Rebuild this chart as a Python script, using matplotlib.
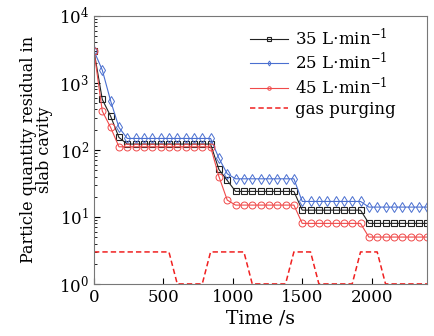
import matplotlib
matplotlib.use('Agg')
import matplotlib.pyplot as plt
from matplotlib import rcParams

rcParams['font.family'] = 'DejaVu Serif'
rcParams['mathtext.fontset'] = 'dejavuserif'

# time axis of sampled points (s)
t = [0, 60, 120, 180, 240, 300, 360, 420, 480, 540, 600, 660, 720, 780, 840,
     900, 960, 1020, 1080, 1140, 1200, 1260, 1320, 1380, 1440,
     1500, 1560, 1620, 1680, 1740, 1800, 1860, 1920,
     1980, 2040, 2100, 2160, 2220, 2280, 2340, 2400]

flow_35 = [3000, 565, 318, 153, 122, 122, 122, 122, 122, 122, 122, 122, 122, 122, 122,
           51, 35, 24, 24, 24, 24, 24, 24, 24, 24,
           12.6, 12.6, 12.6, 12.6, 12.6, 12.6, 12.6, 12.6,
           8, 8, 8, 8, 8, 8, 8, 8]
flow_25 = [3000, 1550, 538, 216, 148, 148, 148, 148, 148, 148, 148, 148, 148, 148, 148,
           75, 44, 37, 37, 37, 37, 37, 37, 37, 37,
           17, 17, 17, 17, 17, 17, 17, 17,
           14, 14, 14, 14, 14, 14, 14, 14]
flow_45 = [3000, 378, 216, 111, 111, 111, 111, 111, 111, 111, 111, 111, 111, 111, 111,
           40, 17.8, 15, 15, 15, 15, 15, 15, 15, 15,
           8, 8, 8, 8, 8, 8, 8, 8,
           5, 5, 5, 5, 5, 5, 5, 5]

purge_t = [0, 540, 600, 780, 840, 1080, 1140, 1380, 1440, 1560, 1620, 1860, 1920, 2040, 2100, 2400]
purge_y = [3, 3, 1, 1, 3, 3, 1, 1, 3, 3, 1, 1, 3, 3, 1, 1]

fig = plt.figure(figsize=(4.35, 3.36), dpi=100)
ax = fig.add_axes([0.216, 0.155, 0.766, 0.798])

ax.plot(t, flow_35, color='#222222', lw=0.8, marker='s', ms=5, mfc='none',
        mew=0.8, label=r'35 L$\cdot$min$^{-1}$')
ax.plot(t, flow_25, color='#4a6fd0', lw=0.8, marker='d', ms=5, mfc='none',
        mew=0.7, label=r'25 L$\cdot$min$^{-1}$')
ax.plot(t, flow_45, color='#f04a4a', lw=0.8, marker='o', ms=5, mfc='none',
        mew=0.7, label=r'45 L$\cdot$min$^{-1}$')
ax.plot(purge_t, purge_y, color='#f02020', lw=1.1, ls=(0, (3.5, 2)), label='gas purging')

ax.set_yscale('log')
ax.set_xlim(0, 2400)
ax.set_ylim(1, 1e4)
ax.set_xticks([0, 500, 1000, 1500, 2000])
ax.tick_params(direction='in', labelsize=12, which='both', top=False, right=False)
ax.tick_params(which='major', length=4)
ax.tick_params(which='minor', length=2)
for sp in ax.spines.values():
    sp.set_color('#777777')

ax.set_xlabel('Time /s', fontsize=13.5, labelpad=3)
ax.set_ylabel('Particle quantity residual in\nslab cavity', fontsize=11.5, labelpad=4,
              linespacing=0.95)

ax.legend(loc='upper right', frameon=False, fontsize=12, markerscale=0.5,
          handlelength=2.3, handletextpad=0.4, labelspacing=0.2,
          borderaxespad=0.3, bbox_to_anchor=(0.94, 1.0))

fig.savefig('out.png', dpi=100)
